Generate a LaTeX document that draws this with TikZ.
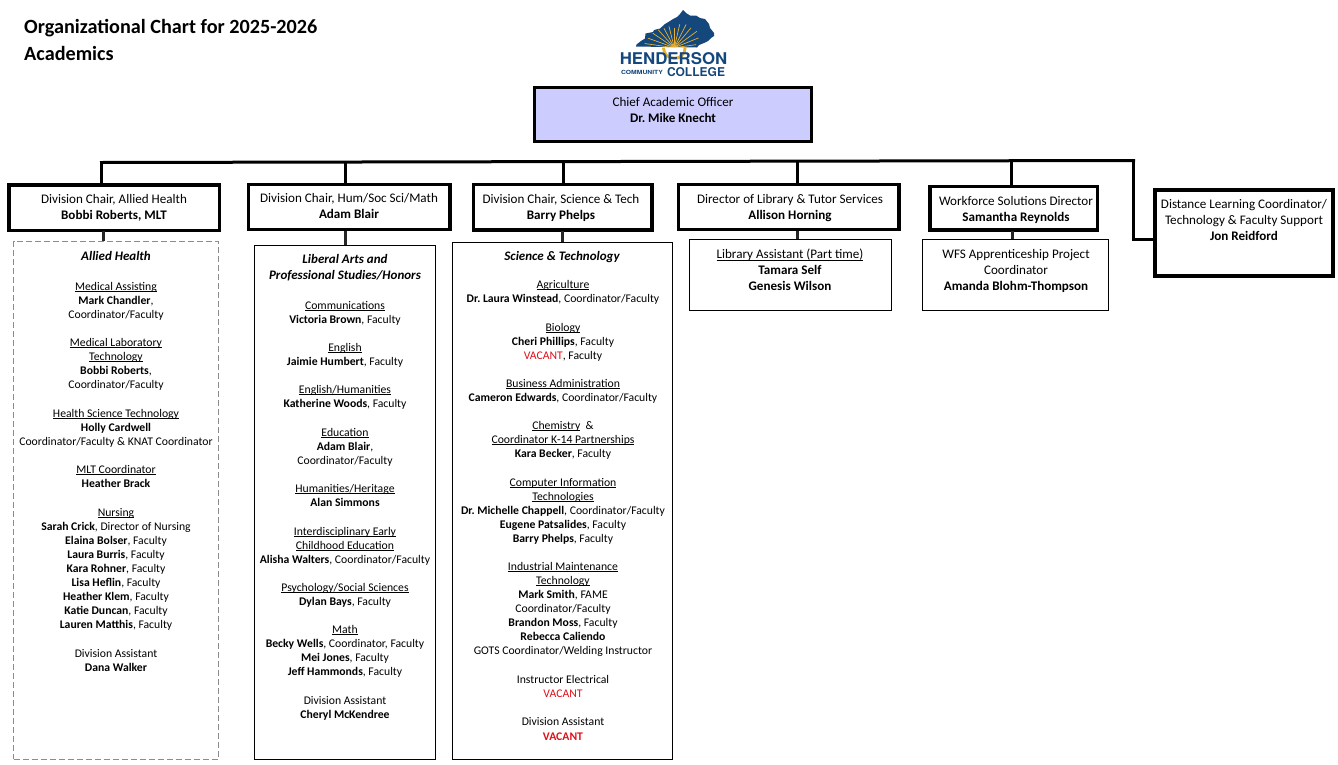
\documentclass[tikz,border=0pt]{standalone}
\usepackage{fontspec}
\usepackage{graphicx}
\setmainfont{Carlito}
\newfontfamily\logofont{TeX Gyre Heros}
\definecolor{logoblue}{HTML}{14477C}
\definecolor{logogold}{HTML}{E8B030}
\definecolor{chieffill}{HTML}{CCCCFF}
\definecolor{vac}{HTML}{E0101A}
\frenchspacing
\newcommand\ux[1]{\setbox0=\hbox{#1}\rlap{\rule[-1.7pt]{\wd0}{0.6pt}}\box0}
\newcommand\vc[1]{\textcolor{vac}{#1}}
\newcommand\ksil{(636,46.5) -- (636.5,44.5) -- (641,41) -- (645,38.5) -- (645.5,33.5) -- (653,32) -- (654,30) -- (660,28.5) -- (665,24) -- (670,21) -- (673,19) -- (677,17) -- (680,14) -- (683,10) -- (686,13) -- (690,15.5) -- (696,15.5) -- (700,18) -- (705,19) -- (709,24) -- (710,28) -- (714,33) -- (714,36) -- (711,38) -- (708,41) -- (704,43) -- (699,45) -- (697,47.5) -- cycle}
\tikzset{
  thick box/.style={draw=black,line width=3.3pt,fill=white,inner sep=0pt},
  thin box/.style={draw=black,line width=1pt,fill=white,inner sep=0pt},
  dash box/.style={draw=black!45,line width=0.8pt,dash pattern=on 6pt off 3pt,inner sep=0pt},
  conn/.style={draw=black,line width=3pt},
  connthin/.style={draw=black!85,line width=3pt},
  txt/.style={anchor=north,align=center,inner sep=0pt,outer sep=0pt,yshift=4pt,
    font=\fontsize{11.7}{14}\selectfont,execute at begin node={\rule{0pt}{9pt}}},
  wide/.style={yshift=1pt,font=\fontsize{13.1}{16}\selectfont},
  head/.style={yshift=1pt,font=\fontsize{13}{16}\selectfont\bfseries\itshape},
  ttl/.style={anchor=west,inner sep=0pt,font=\fontsize{20.2}{24}\selectfont\bfseries},
}
\newcommand\BX[6]{\node[#1,minimum width=#4-#3,minimum height=#6-#5] (#2) at ({(#3+#4)/2},{(#5+#6)/2}) {};}
\begin{document}
\begin{tikzpicture}[x=1pt,y=-1pt]
\useasboundingbox (0,0) rectangle (1338,764);
\node[ttl] (title1) at (24,28.5) {Organizational Chart for 2025-2026};
\node[ttl] (title2) at (24,53) {Academics};
% logo
\fill[logoblue] \ksil;
\begin{scope}
\clip \ksil;
\foreach \a/\r in {8/22,22/26,36/28,50/26,63/26,77/24,90/20,104/22,118/22,132/24,146/26,160/28,172/30}{
  \draw[logogold,line width=0.7pt] (674.3,47.7) -- ++({\r*cos(\a)},{-\r*sin(\a)});
}
\end{scope}
\fill[logogold] (662,47.7) arc[start angle=180,end angle=0,radius=12.3] -- cycle;
\fill[white] (665,47.7) arc[start angle=180,end angle=0,radius=9.3] -- cycle;
\node[inner sep=0pt,text=logoblue] (logo1) at (673.5,58.2) {\resizebox{107.5pt}{12pt}{\logofont\bfseries HENDERSON}};
\node[inner sep=0pt,text=logoblue] (logo2) at (642,72.5) {\resizebox{42pt}{4.2pt}{\logofont\bfseries COMMUNITY}};
\node[inner sep=0pt,text=logoblue] (logo3) at (696,72.3) {\resizebox{58pt}{9pt}{\logofont\bfseries COLLEGE}};
% boxes
\BX{thick box,fill=chieffill}{chief}{534.5}{811.5}{87.5}{141.5}
\BX{thick box}{c1}{9}{219.5}{185}{230.5}
\BX{thick box}{c2}{248.5}{450}{184.5}{229.5}
\BX{thick box}{c3}{473.5}{652}{184.5}{230}
\BX{thick box}{c4}{678.5}{899}{184.5}{229.5}
\BX{thick box}{c5}{930}{1097.5}{186.5}{230}
\BX{thick box}{c6}{1155}{1333}{190}{276}
\BX{dash box}{s1}{13.5}{218.5}{241.5}{759}
\BX{thin box}{s2}{254.5}{435.5}{245}{759}
\BX{thin box}{s3}{452.5}{672.5}{242}{759.5}
\BX{thin box}{s4}{689.5}{891}{239.5}{310}
\BX{thin box}{s5}{922.5}{1108.5}{239.5}{310}
% connectors
\coordinate (bl) at (100,162.5);
\coordinate (br) at (1135,160.5);
\coordinate (j1) at (101.5,162.5);
\coordinate (j2) at (345,162);
\coordinate (j3) at (563,161.6);
\coordinate (j4) at (797,161);
\coordinate (j5) at (1011,160.7);
\coordinate (j6) at (1133.5,160.5);
\coordinate (k6) at (1133.5,239.5);
\coordinate (d1) at (103,231);
\coordinate (d2) at (345,231);
\coordinate (d3) at (562.5,231);
\coordinate (d4) at (797.5,231);
\coordinate (d5) at (1012,231);
\draw[conn] (bl) -- (br);
\draw[conn] (j1) -- (j1 |- c1.north);
\draw[conn] (j2) -- (j2 |- c2.north);
\draw[conn] (j3) -- (j3 |- c3.north);
\draw[conn] (j4) -- (j4 |- c4.north);
\draw[conn] (j5) -- (j5 |- c5.north);
\draw[conn] (j6) -- (k6) -- (k6 -| c6.west);
\draw[connthin] (d1) -- (d1 |- s1.north);
\draw[connthin] (d2) -- (d2 |- s2.north);
\draw[connthin] (d3) -- (d3 |- s3.north);
\draw[connthin] (d4) -- (d4 |- s4.north);
\draw[connthin] (d5) -- (d5 |- s5.north);
% box texts
\node[txt,wide] (t0) at (673,102) {Chief Academic Officer\\\textbf{Dr. Mike Knecht}};
\node[txt,wide] (t1) at (114,199) {Division Chair, Allied Health\\\textbf{Bobbi Roberts, MLT}};
\node[txt,wide] (t2) at (349,198) {Division Chair, Hum/Soc Sci/Math\\\textbf{Adam Blair}};
\node[txt,wide] (t3) at (561,199) {Division Chair, Science \& Tech\\\textbf{Barry Phelps}};
\node[txt,wide] (t4) at (790,199) {Director of Library \& Tutor Services\\\textbf{Allison Horning}};
\node[txt,wide] (t5) at (1016,201) {Workforce Solutions Director\\\textbf{Samantha Reynolds}};
\node[txt,wide] (t6) at (1244,204) {Distance Learning Coordinator/\\Technology \& Faculty Support\\\textbf{Jon Reidford}};
\node[txt,wide] (t7) at (790,254) {\ux{Library Assistant (Part time)}\\\textbf{Tamara Self}\\\textbf{Genesis Wilson}};
\node[txt,wide] (t8) at (1016,254) {WFS Apprenticeship Project\\Coordinator\\\textbf{Amanda Blohm-Thompson}};
% Allied Health
\node[txt,head] (a0) at (116,256) {Allied Health};
\node[txt] (a1) at (116,286) {\ux{Medical Assisting}\\\textbf{Mark Chandler},\\Coordinator/Faculty};
\node[txt] (a2) at (116,342) {\ux{Medical Laboratory}\\\ux{Technology}\\\textbf{Bobbi Roberts},\\Coordinator/Faculty};
\node[txt] (a3) at (116,413) {\ux{Health Science Technology}\\\textbf{Holly Cardwell}\\Coordinator/Faculty \& KNAT Coordinator};
\node[txt] (a4) at (116,469) {\ux{MLT Coordinator}\\\textbf{Heather Brack}};
\node[txt] (a5) at (116,512) {\ux{Nursing}\\\textbf{Sarah Crick}, Director of Nursing\\\textbf{Elaina Bolser}, Faculty\\\textbf{Laura Burris}, Faculty\\\textbf{Kara Rohner}, Faculty\\\textbf{Lisa Heflin}, Faculty\\\textbf{Heather Klem}, Faculty\\\textbf{Katie Duncan}, Faculty\\[0.6pt]\textbf{Lauren Matthis}, Faculty};
\node[txt] (a6) at (116,653) {Division Assistant\\\textbf{Dana Walker}};
% Liberal Arts
\node[txt,head] (b0) at (345,259) {Liberal Arts and\\Professional Studies/Honors};
\node[txt] (b1) at (345,305) {\ux{Communications}\\\textbf{Victoria Brown}, Faculty};
\node[txt] (b2) at (345,347) {\ux{English}\\\textbf{Jaimie Humbert}, Faculty};
\node[txt] (b3) at (345,389) {\ux{English/Humanities}\\\textbf{Katherine Woods}, Faculty};
\node[txt] (b4) at (345,432) {\ux{Education}\\\textbf{Adam Blair},\\Coordinator/Faculty};
\node[txt] (b5) at (345,488) {\ux{Humanities/Heritage}\\\textbf{Alan Simmons}};
\node[txt] (b6) at (345,531) {\ux{Interdisciplinary Early}\\\ux{Childhood Education}\\\textbf{Alisha Walters}, Coordinator/Faculty};
\node[txt] (b7) at (345,587) {\ux{Psychology/Social Sciences}\\\textbf{Dylan Bays}, Faculty};
\node[txt] (b8) at (345,629) {\ux{Math}\\\textbf{Becky Wells}, Coordinator, Faculty\\\textbf{Mei Jones}, Faculty\\[0.6pt]\textbf{Jeff Hammonds}, Faculty};
\node[txt] (b9) at (345,700) {Division Assistant\\\textbf{Cheryl McKendree}};
% Science
\node[txt,head] (e0) at (562,256) {Science \& Technology};
\node[txt] (e1) at (563,284) {\ux{Agriculture}\\\textbf{Dr. Laura Winstead}, Coordinator/Faculty};
\node[txt] (e2) at (563,327) {\ux{Biology}\\\textbf{Cheri Phillips}, Faculty\\\vc{VACANT}, Faculty};
\node[txt] (e3) at (563,383) {\ux{Business Administration}\\\textbf{Cameron Edwards}, Coordinator/Faculty};
\node[txt] (e4) at (563,425) {\ux{Chemistry}\ \ \&\\\ux{Coordinator K-14 Partnerships}\\\textbf{Kara Becker}, Faculty};
\node[txt] (e5) at (563,482) {\ux{Computer Information}\\\ux{Technologies}\\\textbf{Dr. Michelle Chappell}, Coordinator/Faculty\\\textbf{Eugene Patsalides}, Faculty\\\textbf{Barry Phelps}, Faculty};
\node[txt] (e6) at (563,566) {\ux{Industrial Maintenance}\\\ux{Technology}\\\textbf{Mark Smith}, FAME\\Coordinator/Faculty\\\textbf{Brandon Moss}, Faculty\\\textbf{Rebecca Caliendo}\\GOTS Coordinator/Welding Instructor};
\node[txt] (e7) at (563,679) {Instructor Electrical\\\vc{VACANT}};
\node[txt] (e8) at (563,721) {Division Assistant\\[1pt]\textbf{\vc{VACANT}}};
\end{tikzpicture}
\end{document}
